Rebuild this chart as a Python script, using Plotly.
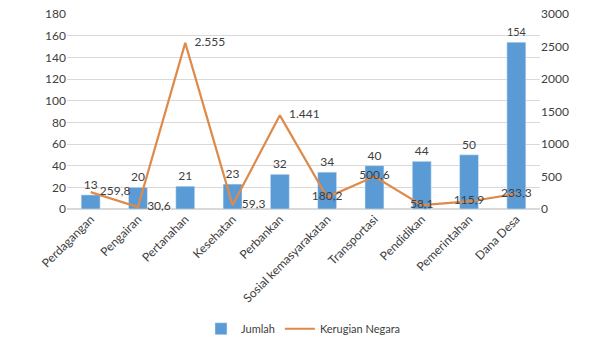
import plotly.graph_objects as go

categories = ["Perdagangan", "Pengairan", "Pertanahan", "Kesehatan", "Perbankan",
              "Sosial kemasyarakatan", "Transportasi", "Pendidikan", "Pemerintahan", "Dana Desa"]
jumlah = [13, 20, 21, 23, 32, 34, 40, 44, 50, 154]
kerugian = [259.8, 30.6, 2555, 59.3, 1441, 180.2, 500.6, 58.1, 115.9, 233.3]
kerugian_labels = ["259,8", "30,6", "2.555", "59,3", "1.441", "180,2", "500,6", "58,1", "115,9", "233,3"]
left_ticks = list(range(0, 181, 20))
right_ticks = list(range(0, 3001, 500))

font_family = "Lato, 'Open Sans', sans-serif"
text_color = "#404040"

positions = ["middle right", "middle right", "middle right", "middle right", "middle right",
             "middle center", "middle center", "middle center", "middle center", "middle center"]
pad = "\u00a0\u00a0\u00a0"
display_labels = [(pad + t) if p == "middle right" else t for t, p in zip(kerugian_labels, positions)]

fig = go.Figure()
fig.add_trace(go.Bar(
    x=categories, y=jumlah, name="Jumlah",
    marker=dict(color="#5B9BD5"),
    text=[str(v) for v in jumlah], textposition="outside",
    textfont=dict(size=12, color=text_color, family=font_family),
    cliponaxis=False,
))
fig.add_trace(go.Scatter(
    x=categories, y=kerugian, name="Kerugian Negara", yaxis="y2",
    mode="lines+text",
    line=dict(color="#DE8A4A", width=2.2),
    text=display_labels,
    textposition=positions,
    textfont=dict(size=12, color=text_color, family=font_family),
    cliponaxis=False,
))

fig.update_layout(
    width=609, height=345,
    margin=dict(l=67, r=69, t=14, b=136),
    paper_bgcolor="white", plot_bgcolor="white",
    font=dict(family=font_family, size=12, color=text_color),
    bargap=0.6,
    showlegend=True,
    legend=dict(orientation="h", x=0.5, xanchor="center", y=0.005, yanchor="bottom",
                yref="container", font=dict(size=11, color=text_color),
                itemwidth=30),
    xaxis=dict(tickangle=-45, showgrid=False, showline=False, ticks="", automargin=False,
               tickfont=dict(size=12, color=text_color)),
    yaxis=dict(range=[0, 180], tickvals=left_ticks, showgrid=True, gridcolor="#D9D9D9",
               gridwidth=1, zeroline=True, zerolinecolor="#D9D9D9", showline=False, ticks="",
               automargin=False, tickfont=dict(size=12, color=text_color)),
    yaxis2=dict(range=[0, 3000], tickvals=right_ticks, overlaying="y", side="right",
                showgrid=False, zeroline=False, showline=False, ticks="", automargin=False,
                tickfont=dict(size=12, color=text_color)),
)

fig.write_html("out.html")
